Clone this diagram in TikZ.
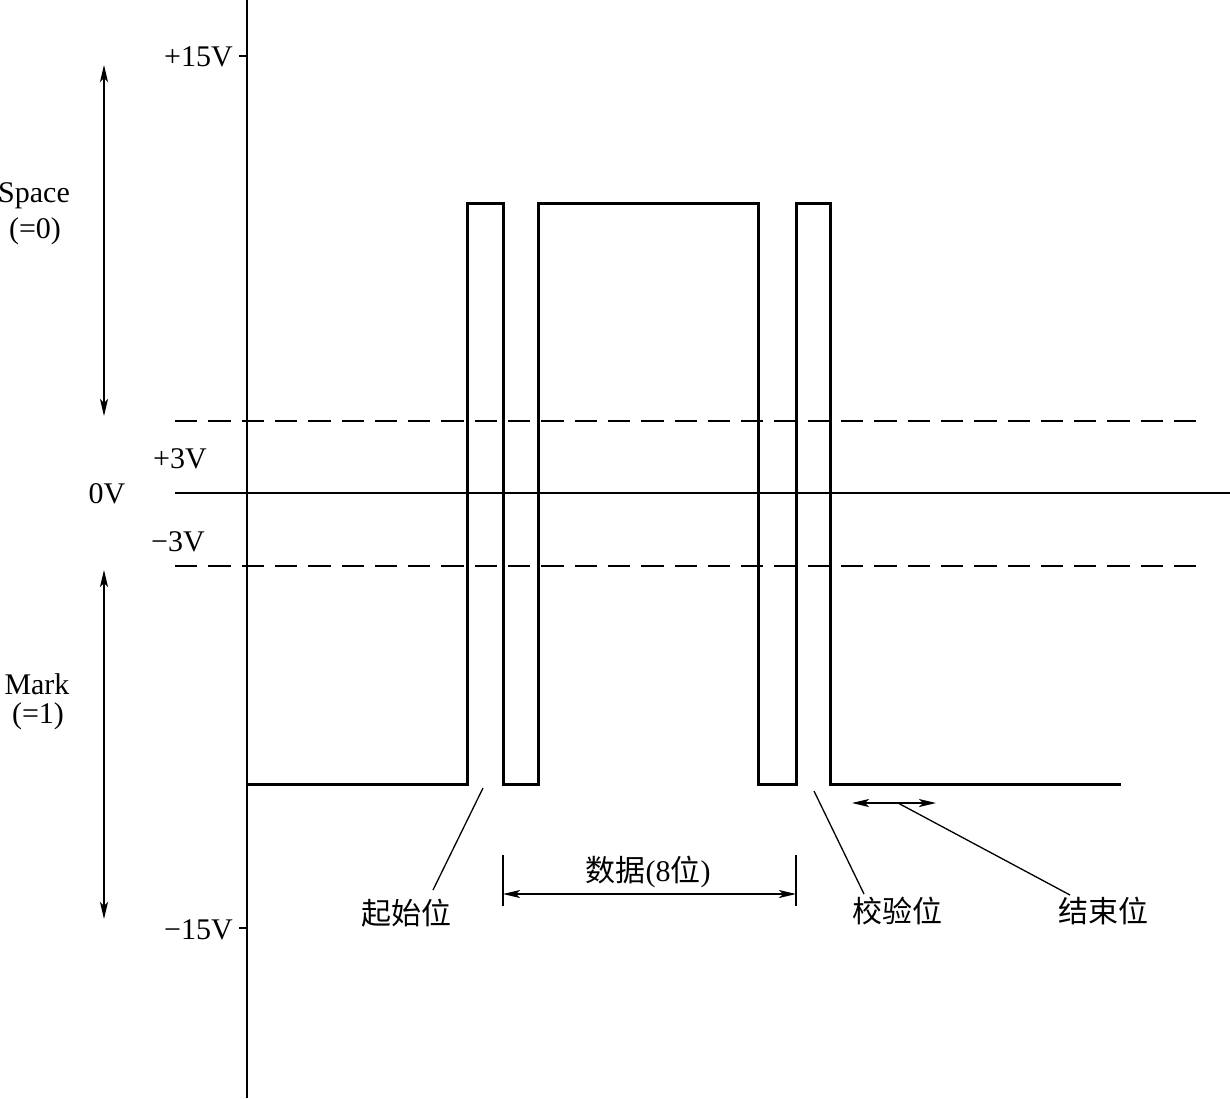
\documentclass[tikz,border=0pt]{standalone}
\usepackage{fontspec}
\setmainfont{Liberation Serif}
\newfontfamily\cjk{Noto Sans CJK SC}
\usetikzlibrary{arrows.meta}
\begin{document}
\begin{tikzpicture}[x=1pt,y=-1pt,
  lbl/.style={font=\fontsize{30}{32}\selectfont, inner sep=0pt},
  cjklbl/.style={font=\cjk\fontsize{30}{32}\selectfont, inner sep=0pt},
  thin line/.style={line width=1.3pt},
  sig/.style={line width=3pt, line join=miter},
  dashline/.style={line width=1.3pt, dash pattern=on 22.3pt off 11pt},
  tip/.style={{Stealth[length=17pt,width=8pt,inset=4pt]}-{Stealth[length=17pt,width=8pt,inset=4pt]}}
]
\useasboundingbox (0,0) rectangle (1230,1098);
% axis
\coordinate (axtop) at (247,0);
\coordinate (axbot) at (247,1098);
\draw[line width=1.6pt] (axtop) -- (axbot);
% ticks
\coordinate (t15a) at (239,56); \coordinate (t15b) at (247,56);
\coordinate (tm15a) at (239,928); \coordinate (tm15b) at (247,928);
\draw[thin line] (t15a) -- (t15b);
\draw[thin line] (tm15a) -- (tm15b);
\node[lbl, anchor=east] (p15) at (233,57) {+15V};
\node[lbl, anchor=east] (m15) at (233,930) {−15V};
% zero and threshold lines
\coordinate (z0) at (175,493); \coordinate (z1) at (1230,493);
\draw[thin line] (z0) -- (z1);
\coordinate (d1a) at (175,421); \coordinate (d1b) at (1197,421);
\coordinate (d2a) at (175,566); \coordinate (d2b) at (1197,566);
\draw[dashline] (d1a) -- (d1b);
\draw[dashline] (d2a) -- (d2b);
\node[lbl] (zv) at (107,494) {0V};
\node[lbl] (p3) at (180,459) {+3V};
\node[lbl] (m3) at (178,542) {−3V};
% side arrows
\coordinate (sa1) at (104,65); \coordinate (sa2) at (104,416);
\coordinate (ma1) at (104,570); \coordinate (ma2) at (104,919);
\draw[thin line, tip] (sa1) -- (sa2);
\draw[thin line, tip] (ma1) -- (ma2);
\node[lbl] (space) at (34,196) {Space};
\node[lbl] (space0) at (35,231) {(=0)};
\node[lbl] (mark) at (37,684) {Mark};
\node[lbl] (mark1) at (38,716) {(=1)};
% signal
\draw[sig] (247,784) -- (467,784) -- (467,203) -- (503,203) -- (503,784)
  -- (538,784) -- (538,203) -- (758,203) -- (758,784) -- (796,784)
  -- (796,203) -- (830,203) -- (830,784) -- (1121,784);
% start bit leader
\coordinate (sb1) at (483,788); \coordinate (sb2) at (433,890);
\draw[thin line] (sb1) -- (sb2);
\node[cjklbl] (start) at (406,913) {起始位};
% data dimension
\coordinate (dl1) at (503,855); \coordinate (dl2) at (503,906);
\coordinate (dr1) at (796,855); \coordinate (dr2) at (796,906);
\draw[thin line] (dl1) -- (dl2);
\draw[thin line] (dr1) -- (dr2);
\coordinate (da) at (503,894); \coordinate (db) at (796,894);
\draw[thin line, tip] (da) -- (db);
\node[lbl, anchor=base] (data) at (648,881) {{\cjk 数据}(8{\cjk 位})};
% parity leader
\coordinate (pb1) at (814,791); \coordinate (pb2) at (864,894);
\draw[thin line] (pb1) -- (pb2);
\node[cjklbl] (parity) at (897,911) {校验位};
% stop bit
\coordinate (st1) at (852,803); \coordinate (st2) at (936,803);
\draw[thin line, tip] (st1) -- (st2);
\coordinate (sl1) at (898,803); \coordinate (sl2) at (1070,895);
\draw[thin line] (sl1) -- (sl2);
\node[cjklbl] (stop) at (1103,911) {结束位};
\end{tikzpicture}
\end{document}
